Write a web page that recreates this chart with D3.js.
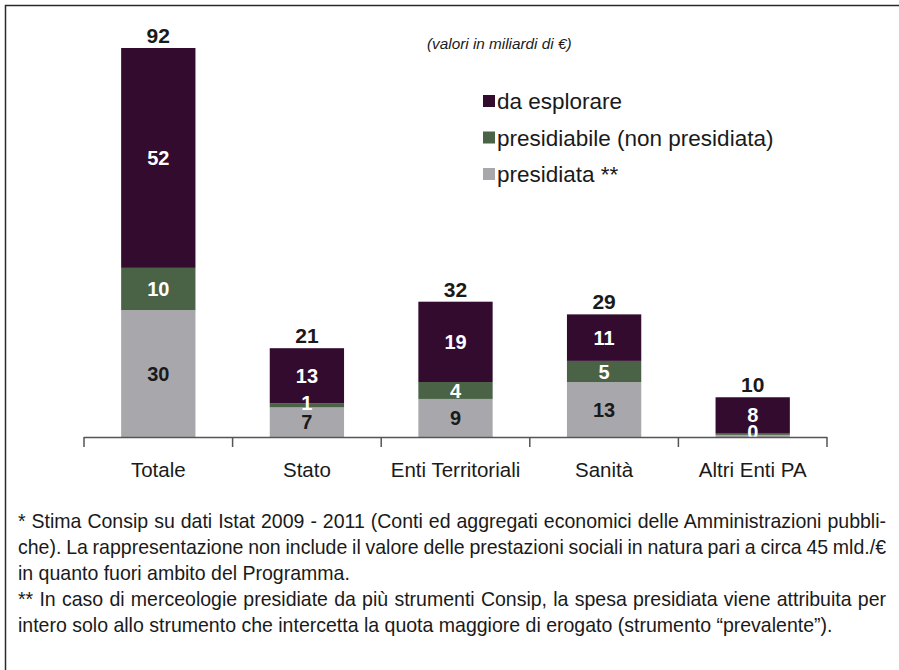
<!DOCTYPE html>
<html>
<head>
<meta charset="utf-8">
<script src="https://cdn.jsdelivr.net/npm/d3@7"></script>
<style>
  html, body { margin: 0; padding: 0; background: #fff; }
  svg { display: block; }
</style>
</head>
<body>
<svg id="chart" width="899" height="670"></svg>
<script>
// Categories and the three stacked series (miliardi di €)
const categories = ["Totale", "Stato", "Enti Territoriali", "Sanità", "Altri Enti PA"];
const presidiata = [30, 7, 9, 13, 0.5];
const presidiabile = [10, 1, 4, 5, 0.45];
const daEsplorare = [52, 13, 19, 11, 8.45];
const totals = [92, 21, 32, 29, 10];

const seriesNames = ["presidiata **", "presidiabile (non presidiata)", "da esplorare"];
const seriesColors = ["#a8a8ac", "#4a6347", "#330b2f"];
const labelColors = ["#1a1a1a", "#ffffff", "#ffffff"];
const legendOrder = [2, 1, 0];

const footnotes = [
  { text: "* Stima Consip su dati Istat 2009 - 2011 (Conti ed aggregati economici delle Amministrazioni pubbli-", justify: true },
  { text: "che). La rappresentazione non include il valore delle prestazioni sociali in natura pari a circa 45 mld./€", justify: true },
  { text: "in quanto fuori ambito del Programma.", justify: false },
  { text: "** In caso di merceologie presidiate da più strumenti Consip, la spesa presidiata viene attribuita per", justify: true },
  { text: "intero solo allo strumento che intercetta la quota maggiore di erogato (strumento “prevalente”).", justify: false }
];

const svg = d3.select("#chart");
const font = "'Liberation Sans', Arial, Helvetica, sans-serif";

// Frame
svg.append("path")
  .attr("d", "M5.5,670 L5.5,5.5 L899,5.5")
  .attr("fill", "none")
  .attr("stroke", "#2a2a2a")
  .attr("stroke-width", 1.5);

// Scales
const x = d3.scaleBand().domain(categories).range([84, 827]).paddingInner(0.5).paddingOuter(0.25);
const y = d3.scaleLinear().domain([0, 92]).range([437, 48]);

// Stack data
const rows = categories.map((c, i) => ({
  cat: c, p0: presidiata[i], p1: presidiabile[i], p2: daEsplorare[i]
}));
const stack = d3.stack().keys(["p0", "p1", "p2"]);
const layers = stack(rows);

const g = svg.append("g");
layers.forEach((layer, li) => {
  g.selectAll(null)
    .data(layer)
    .join("rect")
    .attr("x", d => x(d.data.cat))
    .attr("width", x.bandwidth())
    .attr("y", d => y(d[1]))
    .attr("height", d => y(d[0]) - y(d[1]))
    .attr("fill", seriesColors[li]);
});

// Segment labels (thin segments get their label nudged up a little)
layers.forEach((layer, li) => {
  g.selectAll(null)
    .data(layer.filter(d => !(li === 0 && d[1] - d[0] < 1)))
    .join("text")
    .attr("x", d => x(d.data.cat) + x.bandwidth() / 2)
    .attr("y", d => (y(d[0]) + y(d[1])) / 2 - (y(d[0]) - y(d[1]) < 8 ? 2 : 0))
    .attr("dy", "0.36em")
    .attr("text-anchor", "middle")
    .attr("font-family", font)
    .attr("font-weight", "bold")
    .attr("font-size", 20)
    .attr("fill", labelColors[li])
    .text(d => Math.round(d[1] - d[0]));
});

// Totals above bars
const topLayer = layers[2];
g.selectAll(null)
  .data(topLayer)
  .join("text")
  .attr("x", d => x(d.data.cat) + x.bandwidth() / 2)
  .attr("y", d => y(d[1]) - 5)
  .attr("text-anchor", "middle")
  .attr("font-family", font)
  .attr("font-weight", "bold")
  .attr("font-size", 21)
  .attr("fill", "#1a1a1a")
  .text((d, i) => totals[i]);

// Category axis with boundary ticks
const axisY = y(0);
const [r0, r1] = x.range();
const edges = d3.range(categories.length + 1).map(i => r0 + i * ((r1 - r0) / categories.length));
svg.append("line")
  .attr("x1", edges[0]).attr("x2", edges[edges.length - 1])
  .attr("y1", axisY + 0.5).attr("y2", axisY + 0.5)
  .attr("stroke", "#555").attr("stroke-width", 1.5);
svg.selectAll(null)
  .data(edges)
  .join("line")
  .attr("x1", d => d).attr("x2", d => d)
  .attr("y1", axisY).attr("y2", axisY + 10)
  .attr("stroke", "#555").attr("stroke-width", 1.5);
svg.selectAll(null)
  .data(categories)
  .join("text")
  .attr("x", d => x(d) + x.bandwidth() / 2)
  .attr("y", 477)
  .attr("text-anchor", "middle")
  .attr("font-family", font)
  .attr("font-size", 20.5)
  .attr("fill", "#1a1a1a")
  .text(d => d);

// Unit note
svg.append("text")
  .attr("x", 427).attr("y", 49)
  .attr("font-family", font)
  .attr("font-style", "italic")
  .attr("font-size", 15.3)
  .attr("fill", "#1a1a1a")
  .text("(valori in miliardi di €)");

// Legend
const legend = svg.append("g");
legendOrder.forEach((si, k) => {
  const ly = 101 + k * 36.5;
  legend.append("rect")
    .attr("x", 483).attr("y", ly - 6)
    .attr("width", 12).attr("height", 12)
    .attr("fill", seriesColors[si]);
  legend.append("text")
    .attr("x", 497).attr("y", ly)
    .attr("dy", "0.36em")
    .attr("font-family", font)
    .attr("font-size", 22.5)
    .attr("fill", "#1a1a1a")
    .text(seriesNames[si]);
});

// Footnotes: condensed by a horizontal scale, justified where the paragraph continues
const left = 18, right = 886, lastLineEnd = 833;
const fn = svg.append("g");
const fnTexts = footnotes.map((f, i) => fn.append("text")
  .attr("x", 0).attr("y", 528 + i * 26)
  .attr("font-family", font)
  .attr("font-size", 20)
  .attr("fill", "#1a1a1a")
  .text(f.text));
const sx = (lastLineEnd - left) / fnTexts[4].node().getComputedTextLength();
fn.attr("transform", `translate(${left},0) scale(${sx},1)`);
footnotes.forEach((f, i) => {
  if (!f.justify) return;
  const t = fnTexts[i];
  const w = t.node().getComputedTextLength();
  const spaces = (f.text.match(/ /g) || []).length;
  t.attr("word-spacing", ((right - left) / sx - w) / spaces);
});
</script>
</body>
</html>
